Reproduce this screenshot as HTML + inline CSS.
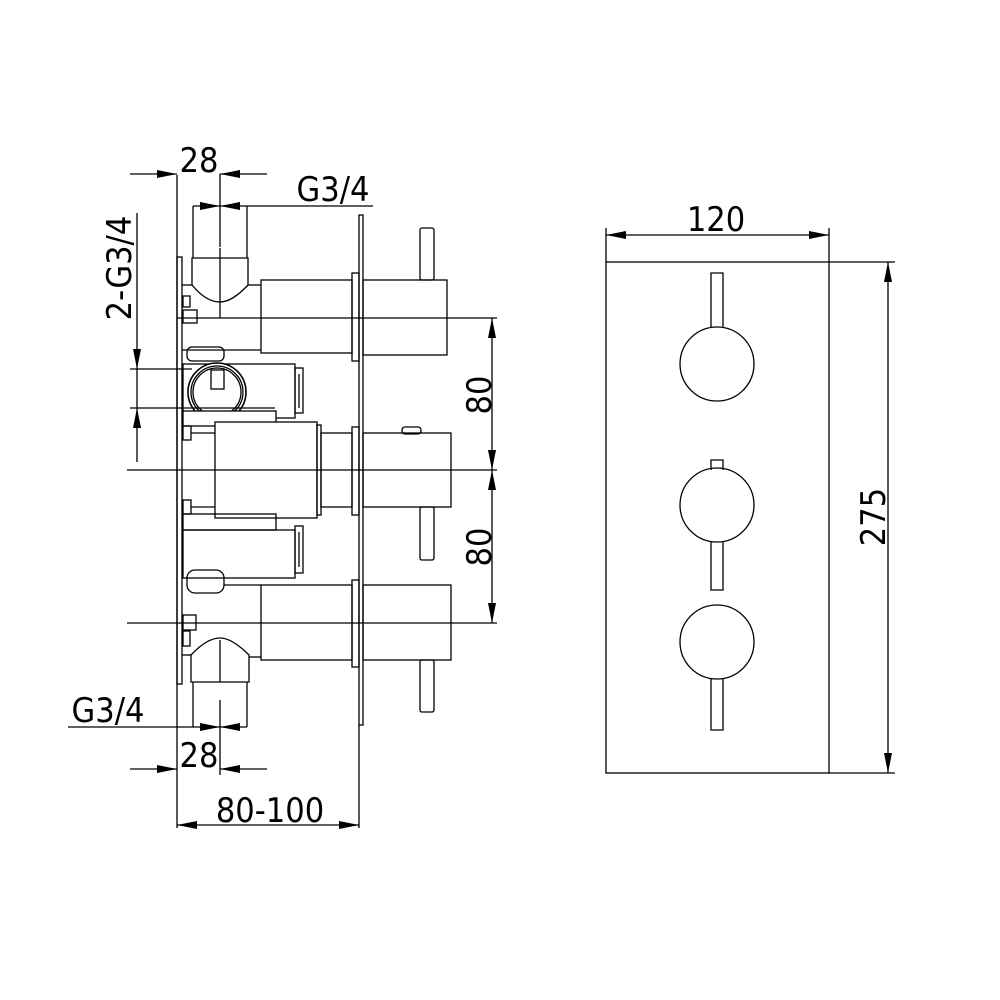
<!DOCTYPE html>
<html><head><meta charset="utf-8"><style>
html,body{margin:0;padding:0;background:#fff;}
svg{display:block;}
text{font-family:"DejaVu Sans Condensed","DejaVu Sans","Liberation Sans",sans-serif;font-weight:200;fill:#000;}
</style></head><body>
<svg width="1000" height="1000" viewBox="0 0 1000 1000" xmlns="http://www.w3.org/2000/svg">
<defs>
<marker id="a" viewBox="0 0 10 4" refX="10" refY="2" markerWidth="20" markerHeight="8" markerUnits="userSpaceOnUse" orient="auto-start-reverse"><path d="M0,0 L10,2 L0,4 Z" fill="#000"/></marker>
</defs>
<g fill="none" stroke="#000" stroke-width="1.3">
<line x1="177" y1="175" x2="177" y2="828"/>
<rect x="177" y="257" width="5" height="427"/>
<line x1="130" y1="174" x2="177" y2="174" marker-end="url(#a)"/>
<line x1="267" y1="174" x2="220" y2="174" marker-end="url(#a)"/>
<line x1="220" y1="174" x2="220" y2="247"/>
<line x1="220" y1="248" x2="220" y2="318"/>
<line x1="193" y1="206" x2="220" y2="206" marker-end="url(#a)"/>
<line x1="247" y1="206" x2="220" y2="206" marker-end="url(#a)"/>
<line x1="247" y1="206" x2="373" y2="206"/>
<line x1="193" y1="206" x2="193" y2="258"/>
<line x1="247" y1="206" x2="247" y2="258"/>
<path d="M192,258 H248 V285 Q232,302 220,302 Q206,302 192,285 Z"/>
<line x1="182" y1="285" x2="192" y2="285"/>
<line x1="248" y1="285" x2="261" y2="285"/>
<rect x="183" y="296" width="7" height="11"/>
<rect x="183" y="310" width="14" height="13"/>
<line x1="182" y1="350" x2="261" y2="350"/>
<rect x="261" y="280" width="91" height="73"/>
<rect x="352" y="273" width="7" height="88"/>
<rect x="359" y="215" width="4" height="510"/>
<rect x="363" y="280" width="84" height="75"/>
<rect x="420" y="228" width="14" height="52" rx="2"/>
<line x1="177" y1="318" x2="497" y2="318"/>
<rect x="187" y="347" width="37" height="14" rx="5"/>
<rect x="183" y="364" width="112" height="54"/>
<rect x="295" y="368" width="8" height="45"/>
<line x1="299" y1="374" x2="299" y2="408"/>
<circle cx="217" cy="392" r="29" fill="#fff" stroke-width="1.6"/>
<circle cx="217" cy="392" r="26"/>
<circle cx="217" cy="392" r="24"/>
<rect x="211" y="370" width="13" height="19"/>
<rect x="183" y="411" width="93" height="15" fill="#fff"/>
<rect x="215" y="422" width="102" height="96" fill="#fff"/>
<rect x="317" y="425" width="4" height="90"/>
<rect x="321" y="433" width="31" height="74"/>
<rect x="352" y="427" width="7" height="88"/>
<rect x="363" y="433" width="88" height="74"/>
<rect x="402" y="427" width="19" height="7" rx="3"/>
<rect x="420" y="507" width="14" height="53" rx="2"/>
<rect x="183" y="426" width="8" height="14"/>
<rect x="183" y="500" width="8" height="14"/>
<line x1="191" y1="433" x2="215" y2="433"/>
<line x1="191" y1="507" x2="215" y2="507"/>
<line x1="127" y1="470" x2="497" y2="470"/>
<rect x="183" y="514" width="93" height="16"/>
<rect x="183" y="530" width="112" height="48"/>
<rect x="295" y="526" width="8" height="47"/>
<line x1="299" y1="532" x2="299" y2="567"/>
<rect x="187" y="570" width="37" height="23" rx="8"/>
<line x1="224" y1="585" x2="261" y2="585"/>
<rect x="261" y="585" width="91" height="75"/>
<rect x="352" y="580" width="7" height="87"/>
<rect x="363" y="585" width="88" height="75"/>
<rect x="420" y="660" width="14" height="52" rx="2"/>
<line x1="127" y1="623" x2="497" y2="623"/>
<rect x="183" y="615" width="13" height="15"/>
<rect x="183" y="631" width="7" height="15"/>
<path d="M191,682 H249 V655 Q232,638 220,638 Q207,638 191,655 Z"/>
<line x1="182" y1="655" x2="191" y2="655"/>
<line x1="249" y1="657" x2="261" y2="657"/>
<line x1="220" y1="640" x2="220" y2="682"/>
<line x1="193" y1="682" x2="193" y2="727"/>
<line x1="247" y1="682" x2="247" y2="727"/>
<line x1="220" y1="700" x2="220" y2="775"/>
<line x1="68" y1="727" x2="193" y2="727"/>
<line x1="193" y1="727" x2="220" y2="727" marker-end="url(#a)"/>
<line x1="247" y1="727" x2="220" y2="727" marker-end="url(#a)"/>
<line x1="130" y1="769" x2="177" y2="769" marker-end="url(#a)"/>
<line x1="267" y1="769" x2="220" y2="769" marker-end="url(#a)"/>
<line x1="359" y1="725" x2="359" y2="828"/>
<line x1="177" y1="825" x2="359" y2="825" marker-start="url(#a)" marker-end="url(#a)"/>
<line x1="492" y1="318" x2="492" y2="470" marker-start="url(#a)" marker-end="url(#a)"/>
<line x1="492" y1="470" x2="492" y2="623" marker-start="url(#a)" marker-end="url(#a)"/>
<line x1="137" y1="213" x2="137" y2="369" marker-end="url(#a)"/>
<line x1="137" y1="462" x2="137" y2="408" marker-end="url(#a)"/>
<line x1="137" y1="369" x2="137" y2="408"/>
<line x1="130" y1="369" x2="192" y2="369"/>
<line x1="130" y1="408" x2="275" y2="408"/>
<rect x="606" y="262" width="223" height="511"/>
<line x1="606" y1="228" x2="606" y2="262"/>
<line x1="829" y1="228" x2="829" y2="262"/>
<line x1="606" y1="235" x2="829" y2="235" marker-start="url(#a)" marker-end="url(#a)"/>
<line x1="829" y1="262" x2="895" y2="262"/>
<line x1="829" y1="773" x2="895" y2="773"/>
<line x1="888" y1="262" x2="888" y2="773" marker-start="url(#a)" marker-end="url(#a)"/>
<circle cx="717" cy="364" r="37"/>
<circle cx="717" cy="505" r="37"/>
<circle cx="717" cy="642" r="37"/>
<path d="M711,328 V273 H723 V328"/>
<path d="M711,470 V460 H723 V470"/>
<path d="M711,541 V590 H723 V541"/>
<path d="M711,678 V730 H723 V678"/>
</g>
<g font-size="34">
<text x="199" y="172" text-anchor="middle">28</text>
<text x="333" y="201" text-anchor="middle">G3/4</text>
<text x="108" y="722" text-anchor="middle">G3/4</text>
<text x="199" y="767" text-anchor="middle">28</text>
<text x="270" y="822" text-anchor="middle">80-100</text>
<text x="716" y="231" text-anchor="middle">120</text>
<text transform="translate(491,395) rotate(-90)" text-anchor="middle">80</text>
<text transform="translate(491,547) rotate(-90)" text-anchor="middle">80</text>
<text transform="translate(131,268) rotate(-90)" text-anchor="middle">2-G3/4</text>
<text transform="translate(885,517) rotate(-90)" text-anchor="middle">275</text>
</g>
</svg>
</body></html>
